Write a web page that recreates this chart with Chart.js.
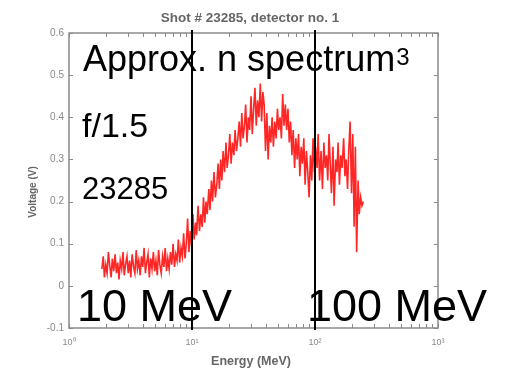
<!DOCTYPE html>
<html>
<head>
<meta charset="utf-8">
<script src="https://cdn.jsdelivr.net/npm/chart.js@4.4.1/dist/chart.umd.min.js"></script>
<style>
  html, body { margin: 0; padding: 0; background: #fff; }
  #wrap { width: 506px; height: 369px; position: relative; }
</style>
</head>
<body>
<div id="wrap"><canvas id="spectrum"></canvas></div>
<script>
// Energy (MeV) and detector voltage (V)
const energy = [
  1.85, 1.90, 1.94, 1.99, 2.04, 2.09, 2.15, 2.20, 2.25, 2.31,
  2.37, 2.43, 2.49, 2.55, 2.61, 2.68, 2.75, 2.81, 2.88, 2.96,
  3.03, 3.11, 3.18, 3.26, 3.35, 3.43, 3.52, 3.60, 3.69, 3.79,
  3.88, 3.98, 4.08, 4.18, 4.28, 4.39, 4.50, 4.61, 4.73, 4.85,
  4.97, 5.09, 5.22, 5.35, 5.48, 5.62, 5.76, 5.91, 6.05, 6.21,
  6.36, 6.52, 6.68, 6.85, 7.02, 7.20, 7.38, 7.56, 7.75, 7.94,
  8.14, 8.35, 8.55, 8.77, 8.99, 9.21, 9.44, 9.68, 9.92, 10.2,
  10.4, 10.7, 10.9, 11.2, 11.5, 11.8, 12.1, 12.4, 12.7, 13.0,
  13.3, 13.7, 14.0, 14.4, 14.7, 15.1, 15.5, 15.9, 16.3, 16.7,
  17.1, 17.5, 17.9, 18.4, 18.9, 19.3, 19.8, 20.3, 20.8, 21.3,
  21.9, 22.4, 23.0, 23.6, 24.2, 24.8, 25.4, 26.0, 26.7, 27.3,
  28.0, 28.7, 29.4, 30.2, 30.9, 31.7, 32.5, 33.3, 34.1, 35.0,
  35.9, 36.8, 37.7, 38.6, 39.6, 40.6, 41.6, 42.6, 43.7, 44.8,
  45.9, 47.1, 48.3, 49.5, 50.7, 52.0, 53.3, 54.6, 56.0, 57.4,
  58.8, 60.3, 61.8, 63.3, 64.9, 66.5, 68.2, 69.9, 71.7, 73.5,
  75.3, 77.2, 79.1, 81.1, 83.1, 85.2, 87.3, 89.5, 91.8, 94.1,
  96.4, 98.8, 101, 104, 106, 109, 112, 115, 118, 121,
  124, 127, 130, 133, 136, 140, 143, 147, 151, 154,
  158, 162, 166, 171, 175, 179, 184, 188, 193, 198,
  203, 208, 213, 218, 224, 229, 235, 241, 247
];
const voltage = [
  0.04, 0.07, 0.02, 0.05, 0.03, 0.08, 0.045, 0.02, 0.065, 0.035,
  0.075, 0.03, 0.055, 0.015, 0.06, 0.04, 0.08, 0.025, 0.05, 0.07,
  0.03, 0.06, 0.02, 0.075, 0.045, 0.03, 0.085, 0.04, 0.06, 0.025,
  0.07, 0.045, 0.09, 0.03, 0.055, 0.075, 0.02, 0.065, 0.04, 0.08,
  0.035, 0.06, 0.025, 0.085, 0.05, 0.03, 0.07, 0.045, 0.09, 0.035,
  0.065, 0.04, 0.08, 0.05, 0.10, 0.045, 0.075, 0.06, 0.11, 0.055,
  0.09, 0.07, 0.125, 0.065, 0.10, 0.16, 0.08, 0.13, 0.095, 0.17,
  0.11, 0.15, 0.12, 0.19, 0.13, 0.17, 0.14, 0.21, 0.15, 0.20,
  0.17, 0.23, 0.18, 0.25, 0.20, 0.27, 0.21, 0.24, 0.29, 0.23,
  0.30, 0.25, 0.32, 0.27, 0.34, 0.28, 0.31, 0.36, 0.29, 0.34,
  0.31, 0.37, 0.32, 0.35, 0.39, 0.33, 0.41, 0.35, 0.38, 0.43,
  0.34, 0.40, 0.37, 0.45, 0.36, 0.42, 0.47, 0.38, 0.44, 0.40,
  0.48, 0.39, 0.46, 0.43, 0.32, 0.41, 0.30, 0.38, 0.34, 0.40,
  0.33, 0.39, 0.35, 0.42, 0.37, 0.40, 0.35, 0.455, 0.38, 0.43,
  0.37, 0.42, 0.34, 0.39, 0.31, 0.37, 0.28, 0.35, 0.30, 0.36,
  0.26, 0.33, 0.29, 0.35, 0.24, 0.32, 0.27, 0.21, 0.31, 0.25,
  0.35, 0.27, 0.33, 0.28, 0.36, 0.25, 0.32, 0.23, 0.34, 0.28,
  0.31, 0.25, 0.36, 0.29, 0.22, 0.33, 0.19, 0.30, 0.27, 0.34,
  0.24, 0.31, 0.28, 0.35, 0.26, 0.30, 0.23, 0.32, 0.39, 0.22,
  0.36, 0.14, 0.33, 0.08, 0.25, 0.17, 0.21, 0.19, 0.20
];
const xTickValues = [1, 10, 100, 1000];
const xTickLabels = ['10\u2070', '10\u00b9', '10\u00b2', '10\u00b3'];
const yTickValues = [-0.1, 0, 0.1, 0.2, 0.3, 0.4, 0.5, 0.6];
const yTickLabels = ['-0.1', '0', '0.1', '0.2', '0.3', '0.4', '0.5', '0.6'];
const markerLines = [10, 100];

const FONT = '"Liberation Sans", Arial, sans-serif';
const GREY = '#8a8a8a';

const points = energy.map((e, i) => ({ x: e, y: voltage[i] }));

// frame, inward ticks, marker lines and the overlaid labels
const overlay = {
  id: 'overlay',
  afterDatasetsDraw(chart) {
    const { ctx, chartArea: a, scales: { x, y } } = chart;
    ctx.save();

    // box
    ctx.strokeStyle = GREY;
    ctx.lineWidth = 1.5;
    ctx.strokeRect(a.left, a.top, a.right - a.left, a.bottom - a.top);

    // ticks pointing inside
    ctx.lineWidth = 1;
    ctx.beginPath();
    for (const d of [1, 10, 100]) {
      for (let m = 1; m <= 10; m++) {
        const px = Math.round(x.getPixelForValue(d * m)) + 0.5;
        ctx.moveTo(px, a.bottom); ctx.lineTo(px, a.bottom - 4);
        ctx.moveTo(px, a.top); ctx.lineTo(px, a.top + 4);
      }
    }
    yTickValues.forEach(v => {
      const py = Math.round(y.getPixelForValue(v)) + 0.5;
      ctx.moveTo(a.left, py); ctx.lineTo(a.left + 4, py);
      ctx.moveTo(a.right, py); ctx.lineTo(a.right - 4, py);
    });
    ctx.stroke();

    // title and axis titles
    ctx.fillStyle = '#666';
    ctx.textAlign = 'center';
    ctx.textBaseline = 'middle';
    ctx.font = 'bold 13.5px ' + FONT;
    ctx.fillText('Shot # 23285, detector no. 1', 250, 18);
    ctx.font = 'bold 12.5px ' + FONT;
    ctx.fillText('Energy (MeV)', 251, 362);
    ctx.save();
    ctx.translate(33, 192);
    ctx.rotate(-Math.PI / 2);
    ctx.font = 'bold 10px ' + FONT;
    ctx.fillText('Voltage (V)', 0, 0);
    ctx.restore();

    // vertical markers at 10 and 100 MeV
    ctx.strokeStyle = '#000';
    ctx.lineWidth = 2;
    ctx.beginPath();
    markerLines.forEach(v => {
      const px = Math.round(x.getPixelForValue(v));
      ctx.moveTo(px, a.top - 3); ctx.lineTo(px, a.bottom + 2);
    });
    ctx.stroke();

    // big labels
    ctx.fillStyle = '#000';
    ctx.textAlign = 'left';
    ctx.textBaseline = 'alphabetic';
    ctx.font = '36px ' + FONT;
    const head = 'Approx. n spectrum';
    ctx.fillText(head, 83, 71);
    const w = ctx.measureText(head).width;
    ctx.font = '24px ' + FONT;
    ctx.fillText('3', 83 + w + 1, 65);
    ctx.font = '34px ' + FONT;
    ctx.fillText('f/1.5', 82, 137);
    ctx.font = '31px ' + FONT;
    ctx.fillText('23285', 82, 199);
    ctx.font = '45px ' + FONT;
    ctx.fillText('10 MeV', 77, 321);
    ctx.fillText('100 MeV', 307, 321);

    ctx.restore();
  }
};

new Chart(document.getElementById('spectrum'), {
  type: 'line',
  data: {
    datasets: [{
      data: points,
      borderColor: 'rgba(255, 0, 0, 0.85)',
      borderWidth: 1.6,
      pointRadius: 0,
      tension: 0,
      fill: false
    }]
  },
  options: {
    responsive: true,
    maintainAspectRatio: false,
    animation: false,
    layout: { padding: { top: 33, right: 68, left: 0, bottom: 0 } },
    plugins: { legend: { display: false }, tooltip: { enabled: false } },
    scales: {
      x: {
        type: 'logarithmic',
        min: 1,
        max: 1000,
        afterFit: s => { s.height = 41; },
        afterBuildTicks: s => { s.ticks = xTickValues.map(v => ({ value: v })); },
        grid: { display: false, drawTicks: false },
        border: { display: false },
        ticks: {
          autoSkip: false,
          maxRotation: 0,
          padding: 9,
          color: '#8a8a8a',
          font: { family: FONT, size: 9 },
          callback: v => xTickLabels[xTickValues.indexOf(v)] ?? ''
        }
      },
      y: {
        min: -0.1,
        max: 0.6,
        afterFit: s => { s.width = 69; },
        afterBuildTicks: s => { s.ticks = yTickValues.map(v => ({ value: v })); },
        grid: { display: false, drawTicks: false },
        border: { display: false },
        ticks: {
          padding: 5,
          color: '#8a8a8a',
          font: { family: FONT, size: 10 },
          callback: (v, i) => yTickLabels[i]
        }
      }
    }
  },
  plugins: [overlay]
});
</script>
</body>
</html>
